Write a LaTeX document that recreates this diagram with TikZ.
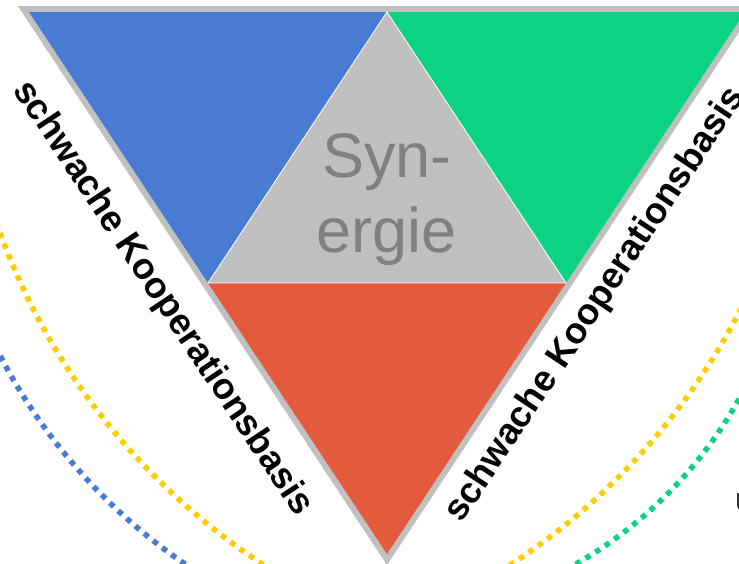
\documentclass[tikz,border=0pt]{standalone}
\usepackage{fontspec}
\setmainfont{Liberation Sans}
\usepackage{tikz}
\usepackage{xcolor}
\usetikzlibrary{calc}
\definecolor{coopblue}{RGB}{74,123,211}
\definecolor{coopgreen}{RGB}{12,211,131}
\definecolor{coopred}{RGB}{228,90,60}
\definecolor{coopgray}{RGB}{191,191,191}
\definecolor{coopyellow}{RGB}{255,204,0}
\definecolor{coopframe}{RGB}{192,192,192}
\definecolor{cooptext}{RGB}{128,128,128}
\tikzset{
	side/.style={font=\fontsize{36.5}{40}\selectfont\bfseries, inner sep=0pt},
	synword/.style={anchor=base, inner sep=0pt, text=cooptext, font=\fontsize{63}{75}\selectfont},
	ring/.style={line width=5.5pt, dash pattern=on 5.5pt off 6pt},
}

\begin{document}
\begin{tikzpicture}[x=1pt,y=-1pt]
		\useasboundingbox (0,0) rectangle (739,563);
		\clip (0,0) rectangle (739,563);
		
		\coordinate (otl) at (17.8,6);
		\coordinate (otr) at (756.2,6);
		\coordinate (obot) at (387,565);
		
		\coordinate (tl) at (29,12);
		\coordinate (tm) at (387,12);
		\coordinate (tr) at (745,12);
		\coordinate (ml) at (208,283);
		\coordinate (mr) at (566,283);
		\coordinate (bot) at (387,554);
		
		\fill[coopframe] (otl) -- (otr) -- (obot) -- cycle;
		\fill[coopblue] (tl) -- (tm) -- (ml) -- cycle;
		\fill[coopgreen] (tm) -- (tr) -- (mr) -- cycle;
		\fill[coopgray] (tm) -- (ml) -- (mr) -- cycle;
		\fill[coopred] (ml) -- (mr) -- (bot) -- cycle;
		\draw[white, line width=0.8pt] (tm) -- (ml) -- (mr) -- cycle;
		
		\node (syn) [synword] at (387,177) {Syn-};
		\node (ergie) [synword] at (387,252) {ergie};
		
		\node (leftbase) [side, rotate=-56.4] at (162.5,298.5) {schwache Kooperationsbasis};
		\node (rightbase) [side, rotate=56.4] at (596,305) {schwache Kooperationsbasis};
		
		\coordinate (cyl) at (628,5);
		\coordinate (cbl) at (506,93);
		\coordinate (cyr) at (146,5);
		\coordinate (cgr) at (361.5,189);
		
		\draw[ring, coopyellow] ($(cyl)+(164:668)$) arc[start angle=164, end angle=118, radius=668];
		\draw[ring, coopblue] ($(cbl)+(156:570)$) arc[start angle=156, end angle=120, radius=570];
		\draw[ring, coopyellow] ($(cyr)+(24:668)$) arc[start angle=24, end angle=60, radius=668];
		\draw[ring, coopgreen] ($(cgr)+(26:432)$) arc[start angle=26, end angle=63, radius=432];
		
		\node (cut) [anchor=base west, inner sep=0pt, text=black!80, font=\fontsize{26}{30}\selectfont] at (735,511) {U};
	\end{tikzpicture}
\end{document}
